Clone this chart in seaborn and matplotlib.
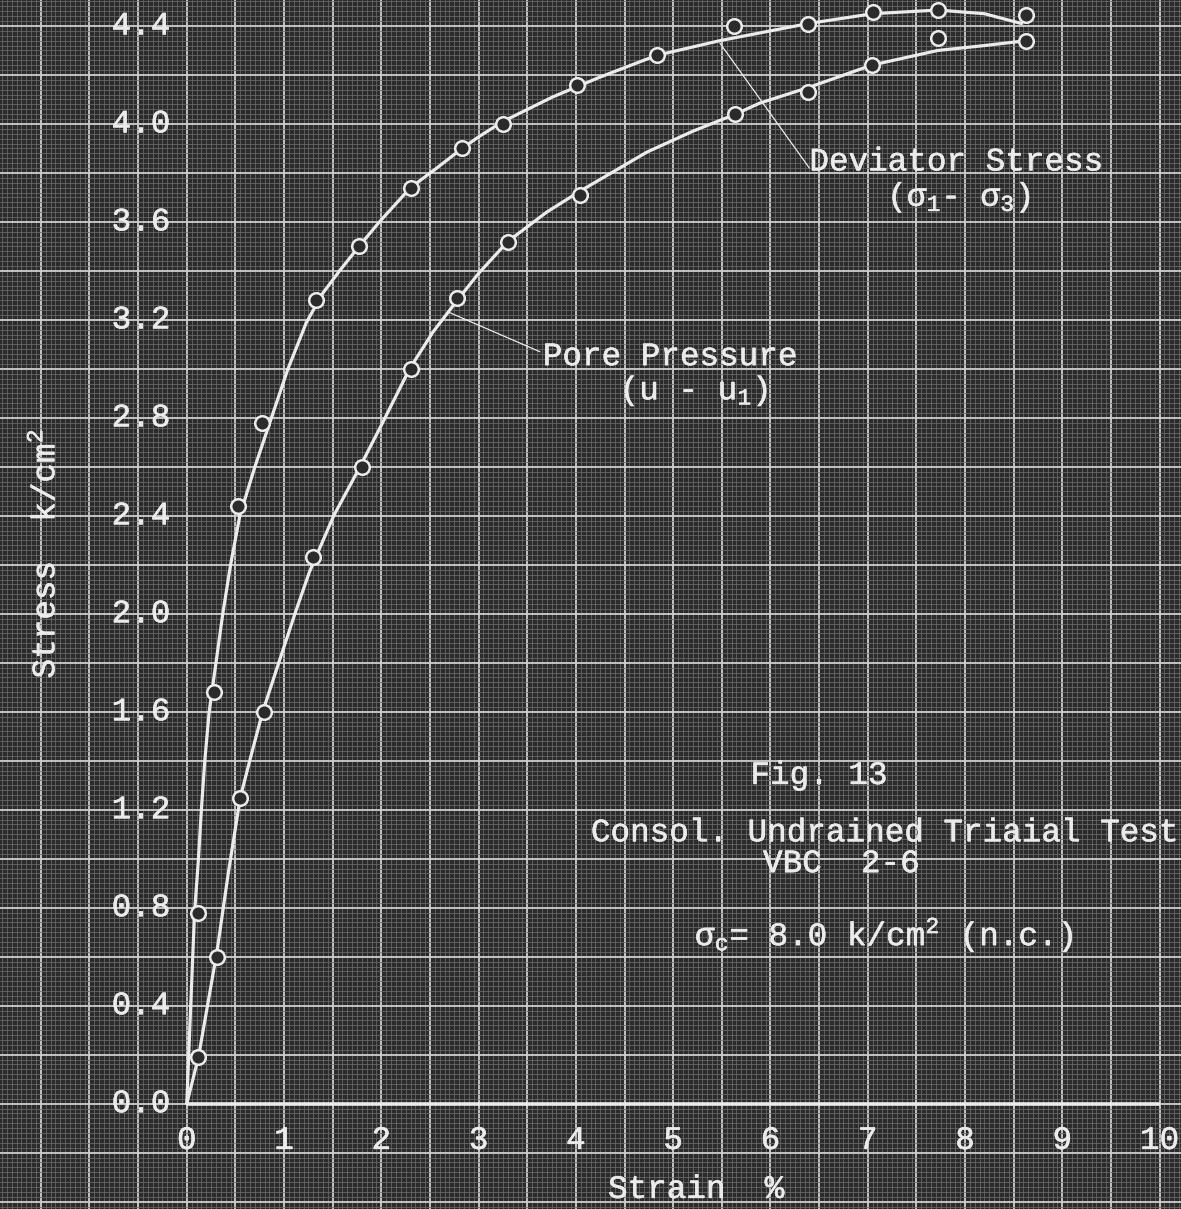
import numpy as np
import pandas as pd
import matplotlib
matplotlib.use("Agg")
import matplotlib.pyplot as plt
from matplotlib.ticker import MultipleLocator
import matplotlib.patheffects as pe
import seaborn as sns

# ---------------- data ----------------
# measured points (open circles)
dev_strain = [0.12, 0.28, 0.53, 0.77, 1.33, 1.77, 2.30, 2.83, 3.25, 4.01, 4.83, 5.63, 6.39, 7.05, 7.72, 8.63]
dev_stress = [0.78, 1.68, 2.44, 2.78, 3.28, 3.50, 3.74, 3.90, 4.00, 4.16, 4.28, 4.40, 4.41, 4.455, 4.465, 4.445]
pore_strain = [0.12, 0.31, 0.55, 0.79, 1.30, 1.80, 2.30, 2.78, 3.30, 4.04, 5.64, 6.39, 7.04, 7.72, 8.63]
pore_stress = [0.19, 0.60, 1.25, 1.60, 2.23, 2.60, 3.00, 3.29, 3.52, 3.71, 4.04, 4.13, 4.24, 4.35, 4.34]

# hand-drawn fitted curves
dev_curve_x = [0, 0.03, 0.08, 0.12, 0.15, 0.185, 0.23, 0.30, 0.37, 0.45, 0.545, 0.70, 0.87, 1.04,
               1.23, 1.40, 1.57, 1.77, 1.98, 2.30, 2.57, 2.83, 3.01, 3.25, 3.76, 4.24, 4.83, 5.48,
               6.39, 7.05, 7.72, 8.20, 8.58]
dev_curve_y = [0, 0.30, 0.78, 1.00, 1.20, 1.40, 1.60, 1.80, 2.00, 2.20, 2.40, 2.60, 2.80, 3.00,
               3.19, 3.31, 3.40, 3.50, 3.60, 3.74, 3.82, 3.90, 3.95, 4.01, 4.11, 4.19, 4.28, 4.34,
               4.41, 4.45, 4.465, 4.45, 4.41]
pore_curve_x = [0, 0.12, 0.31, 0.43, 0.55, 0.66, 0.78, 0.97, 1.12, 1.26, 1.51, 1.78, 2.00,
                2.29, 2.53, 2.78, 3.00, 3.30, 3.70, 4.04, 4.73, 5.20, 5.64, 5.89, 6.40, 7.04, 7.72,
                8.20, 8.63]
pore_curve_y = [0, 0.19, 0.62, 0.95, 1.25, 1.42, 1.60, 1.83, 2.01, 2.17, 2.40, 2.60, 2.77,
                3.00, 3.15, 3.28, 3.39, 3.52, 3.64, 3.725, 3.885, 3.97, 4.04, 4.085, 4.15, 4.24, 4.30,
                4.32, 4.34]

# leader lines of the curve labels
dev_leader_x = [5.48, 6.40]
dev_leader_y = [4.33, 3.82]
pore_leader_x = [2.70, 3.63]
pore_leader_y = [3.23, 3.07]

x_tick_values = [0, 1, 2, 3, 4, 5, 6, 7, 8, 9, 10]
x_tick_labels = ["0", "1", "2", "3", "4", "5", "6", "7", "8", "9", "10"]
y_tick_values = [0.0, 0.4, 0.8, 1.2, 1.6, 2.0, 2.4, 2.8, 3.2, 3.6, 4.0, 4.4]
y_tick_labels = ["0.0", "0.4", "0.8", "1.2", "1.6", "2.0", "2.4", "2.8", "3.2", "3.6", "4.0", "4.4"]

# ---------------- style ----------------
sns.set_theme(style="dark")
plt.rcParams['font.family'] = ['Liberation Mono', 'DejaVu Sans Mono']
plt.rcParams['mathtext.fontset'] = 'custom'
plt.rcParams['mathtext.rm'] = 'Liberation Mono'
plt.rcParams['mathtext.it'] = 'Liberation Mono'
plt.rcParams['mathtext.bf'] = 'Liberation Mono'

BG = '#2b2b2b'
INK = '#ebebeb'
FS = 23.5
TXT = dict(fontsize=FS, color=INK,
           path_effects=[pe.withStroke(linewidth=0.4, foreground=INK)])

fig = plt.figure(figsize=(11.81, 12.09), dpi=100)
fig.patch.set_facecolor(BG)
ax = fig.add_axes([0, 0, 1, 1])
ax.set_facecolor(BG)
ax.set_xlim(-1.92, 10.22)
ax.set_ylim(-0.43, 4.506)

# graph-paper grid
ax.xaxis.set_major_locator(MultipleLocator(0.5))
ax.xaxis.set_minor_locator(MultipleLocator(0.05))
ax.yaxis.set_major_locator(MultipleLocator(0.2))
ax.yaxis.set_minor_locator(MultipleLocator(0.02))
ax.grid(True, which='major', color='#cfcfcf', lw=1.3)
ax.grid(True, which='minor', color='#6c6c6c', lw=0.55)
ax.set_axisbelow(True)
ax.tick_params(which='both', length=0, labelbottom=False, labelleft=False)
for s in ax.spines.values():
    s.set_visible(False)

# x axis line
ax.hlines(0, 0, 10, color=INK, lw=2.6, zorder=3)

# curves
dev_curve = pd.DataFrame({"strain": dev_curve_x, "stress": dev_curve_y})
pore_curve = pd.DataFrame({"strain": pore_curve_x, "stress": pore_curve_y})
for c in (dev_curve, pore_curve):
    sns.lineplot(data=c, x="strain", y="stress", sort=False, estimator=None,
                 color=INK, lw=2.3, ax=ax, zorder=4)

# measured points
dev_pts = pd.DataFrame({"strain": dev_strain, "stress": dev_stress})
pore_pts = pd.DataFrame({"strain": pore_strain, "stress": pore_stress})
for d in (dev_pts, pore_pts):
    sns.scatterplot(data=d, x="strain", y="stress", marker='o', s=110,
                    facecolor=BG, edgecolor=INK, linewidth=1.8, ax=ax, zorder=5)

# leaders
ax.plot(dev_leader_x, dev_leader_y, color=INK, lw=0.9, zorder=4)
ax.plot(pore_leader_x, pore_leader_y, color=INK, lw=0.9, zorder=4)

# tick labels written on the paper
for v, t in zip(x_tick_values, x_tick_labels):
    ax.text(v, -0.15, t, ha='center', va='center', zorder=6, **TXT)
for v, t in zip(y_tick_values, y_tick_labels):
    ax.text(-0.47, v, t, ha='center', va='center', zorder=6, **TXT)

# axis titles
ax.text(-1.46, 2.245, r"Stress  k/cm$^2$", rotation=90, ha='center', va='center', **TXT)
ax.text(4.33, -0.35, "Strain  %", ha='left', va='center', **TXT)

# curve labels
ax.text(6.40, 3.845, "Deviator Stress", ha='left', va='center', **TXT)
ax.text(7.20, 3.70, r"(σ$_1$- σ$_3$)", ha='left', va='center', **TXT)
ax.text(3.66, 3.05, "Pore Pressure", ha='left', va='center', **TXT)
ax.text(4.45, 2.91, r"(u - u$_1$)", ha='left', va='center', **TXT)

# figure caption
ax.text(6.50, 1.34, "Fig. 13", ha='center', va='center', **TXT)
ax.text(7.18, 1.106, "Consol. Undrained Triaial Test", ha='center', va='center', **TXT)
ax.text(6.73, 0.98, "VBC  2-6", ha='center', va='center', **TXT)
ax.text(7.17, 0.69, r"σ$_c$= 8.0 k/cm$^2$ (n.c.)", ha='center', va='center', **TXT)

fig.savefig("out.png", dpi=100, facecolor=BG)
